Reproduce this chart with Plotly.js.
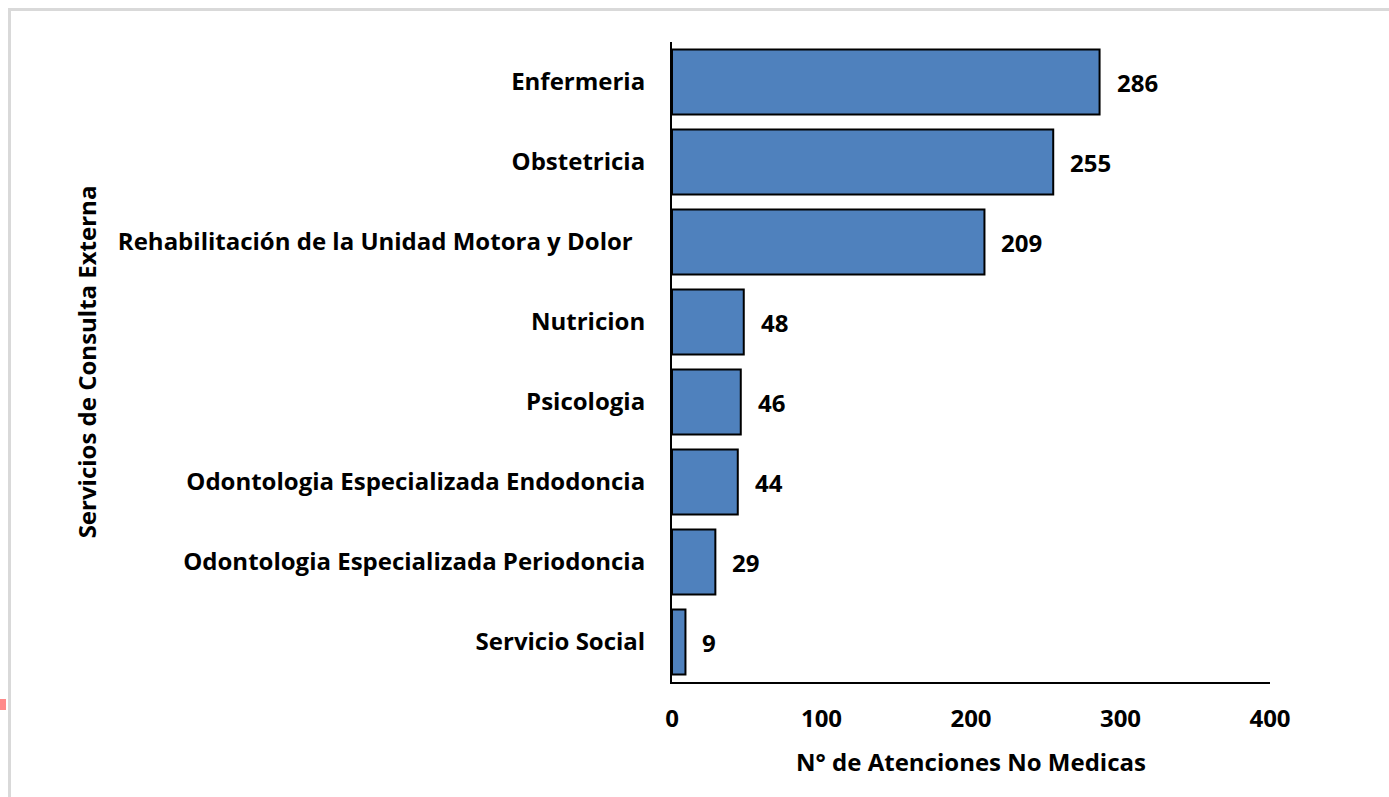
<!DOCTYPE html>
<html>
<head>
<meta charset="utf-8">
<script src="https://cdn.plot.ly/plotly-3.0.1.min.js"></script>
<style>
  html, body { margin: 0; padding: 0; background: #ffffff; overflow: hidden; }
  #chart { position: absolute; left: 0; top: 0; width: 1389px; height: 797px; }
  #frame { position: absolute; left: 8px; top: 8px; width: 1400px; height: 820px;
           border-top: 3px solid #d9d9d9; border-left: 3px solid #d9d9d9; pointer-events: none; }
  #mark { position: absolute; left: 0; top: 699px; width: 6px; height: 11px; background: #ff8a8a; }
</style>
</head>
<body>
<div id="chart"></div>
<div id="frame"></div>
<div id="mark"></div>
<script>
const categories = [
  "Enfermeria",
  "Obstetricia",
  "Rehabilitación de la Unidad Motora y Dolor\u00a0\u00a0",
  "Nutricion",
  "Psicologia",
  "Odontologia Especializada Endodoncia",
  "Odontologia Especializada Periodoncia",
  "Servicio Social"
];
const values = [286, 255, 209, 48, 46, 44, 29, 9];
const xTicks = [0, 100, 200, 300, 400];

const FONT = "'Open Sans', Lato, sans-serif";
const fontSpec = { family: FONT, size: 24, color: "#000000", weight: 700 };

const trace = {
  type: "bar",
  orientation: "h",
  x: values,
  y: categories,
  marker: { color: "#4f81bd", line: { color: "#000000", width: 2 } },
  hoverinfo: "none"
};

const annotations = values.map((v, i) => ({
  x: v, y: categories[i], xref: "x", yref: "y",
  text: String(v), showarrow: false, xanchor: "left", yanchor: "middle",
  xshift: 15, font: fontSpec
}));

const layout = {
  width: 1389, height: 797,
  margin: { l: 672, r: 119, t: 42, b: 115, pad: 0 },
  paper_bgcolor: "rgba(0,0,0,0)",
  plot_bgcolor: "rgba(0,0,0,0)",
  showlegend: false,
  bargap: 0.19,
  font: fontSpec,
  xaxis: {
    range: [0, 400],
    tickvals: xTicks,
    ticktext: xTicks.map(String),
    showgrid: false, zeroline: false,
    showline: true, linecolor: "#000000", linewidth: 2,
    ticks: "", ticklabelstandoff: 14,
    tickfont: fontSpec,
    title: { text: "N° de Atenciones No Medicas", font: fontSpec, standoff: 21 },
    fixedrange: true
  },
  yaxis: {
    type: "category",
    autorange: "reversed",
    showgrid: false, zeroline: false,
    showline: true, linecolor: "#000000", linewidth: 2,
    ticks: "", ticklabelstandoff: 20,
    tickfont: fontSpec,
    title: { text: "Servicios de Consulta Externa", font: fontSpec, standoff: 14 },
    fixedrange: true
  },
  annotations: annotations
};

Plotly.newPlot("chart", [trace], layout, { staticPlot: true, displayModeBar: false });
</script>
</body>
</html>
